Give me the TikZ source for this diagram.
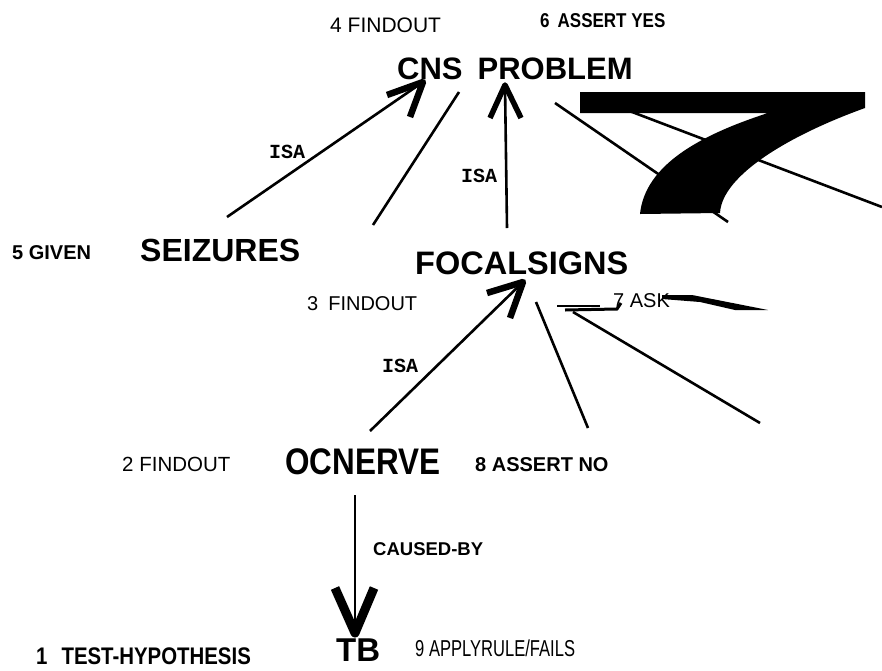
\documentclass[tikz,border=0pt]{standalone}
\usepackage{fontspec}
\setmainfont{Liberation Sans}
\newfontfamily\narrowsans[FakeStretch=0.85]{Liberation Sans}
\newfontfamily\condsans[FakeStretch=0.72]{Liberation Sans}
\newfontfamily\isafont{Liberation Mono}
\usepackage{tikz}
\newcommand{\fsz}[1]{\fontsize{#1}{#1}\selectfont}

\begin{document}
\begin{tikzpicture}[
    x=1pt, y=-1pt,
    concept/.style={inner sep=0pt, anchor=base west, font=\bfseries\fsz{31}},
    act/.style={inner sep=0pt, anchor=base west, font=\fsz{21}},
    actb/.style={act, font=\bfseries\fsz{20}},
    rel/.style={inner sep=0pt, anchor=base west, font=\isafont\bfseries\fsz{20}},
    link/.style={line width=2.6pt},
    barb/.style={line width=6.5pt, line cap=butt, line join=round},
    bigbarb/.style={barb, line width=9pt}
]
\useasboundingbox (0,0) rectangle (882,670);

% concepts
\node[concept] (cns) at (397,79) {CNS\hspace{15pt}PROBLEM};
\node[concept, font=\bfseries\fsz{32}] (seiz) at (140,261) {SEIZURES};
\node[concept, font=\bfseries\fsz{32.5}] (focal) at (415,274) {FOCALSIGNS};
\node[concept, font=\narrowsans\bfseries\fsz{37}] (ocn) at (285,474) {OCNERVE};
\node[concept, font=\bfseries\fsz{33}] (tb) at (336,661) {TB};

% steps
\node[act] (find4) at (330,32) {4 FINDOUT};
\node[actb, font=\narrowsans\bfseries\fsz{20}] (yes6) at (540,27) {6\hspace{8pt}ASSERT YES};
\node[actb] (given5) at (12,259) {5 GIVEN};
\node[act, font=\fsz{20}] (find3) at (307,310) {3\hspace{10pt}FINDOUT};
\node[act, font=\fsz{20}] (ask7) at (613,307) {7 ASK};
\node[act, font=\fsz{20.5}] (find2) at (122,471) {2 FINDOUT};
\node[actb] (no8) at (475,471) {8 ASSERT NO};
\node[actb, font=\narrowsans\bfseries\fsz{24}] (test1) at (36,664) {1\hspace{14pt}TEST-HYPOTHESIS};
\node[act, font=\condsans\fsz{23}] (rule9) at (415,656) {9 APPLYRULE/FAILS};

% relations
\node[rel] (isa1) at (269,158) {ISA};
\node[rel] (isa2) at (461,182) {ISA};
\node[rel] (isa3) at (382,372) {ISA};
\node[actb, font=\bfseries\fsz{18.5}] (causedby) at (373,555) {CAUSED-BY};

% loose ends
\coordinate (end1) at (728,222);
\coordinate (end2) at (882,207);
\coordinate (end3) at (588,428);
\coordinate (end4) at (760,423);

% links
\draw[link] ([xshift=87pt, yshift=44pt]seiz.base west) -- ([xshift=26pt, yshift=-3pt]cns.base west);
\draw[barb] ([xshift=-10pt, yshift=-16pt]cns.base west) -- ([xshift=26pt, yshift=-3pt]cns.base west)
  -- ([xshift=13pt, yshift=-38pt]cns.base west);
\draw[link] ([xshift=-42pt, yshift=49pt]focal.base west) -- ([xshift=62pt, yshift=-13pt]cns.base west);
\draw[link] ([xshift=92pt, yshift=46pt]focal.base west) -- ([xshift=108pt, yshift=-6pt]cns.base west);
\draw[barb, line width=5.5pt] ([xshift=93pt, yshift=-39pt]cns.base west) -- ([xshift=108pt, yshift=-6pt]cns.base west)
  -- ([xshift=124pt, yshift=-39pt]cns.base west);
\draw[link] ([xshift=158pt, yshift=-24pt]cns.base west) -- (end1);
\draw[link] ([xshift=193pt, yshift=-17pt]cns.base west) -- (end2);

\draw[link] ([xshift=85pt, yshift=43pt]ocn.base west) -- ([xshift=108pt, yshift=-8pt]focal.base west);
\draw[barb] ([xshift=72pt, yshift=-19pt]focal.base west) -- ([xshift=108pt, yshift=-8pt]focal.base west)
  -- ([xshift=95pt, yshift=-44pt]focal.base west);
\draw[link] ([xshift=121pt, yshift=-28pt]focal.base west) -- (end3);
\draw[link] ([xshift=158pt, yshift=-38pt]focal.base west) -- (end4);

\draw[link] ([xshift=70pt, yshift=-21pt]ocn.base west) -- ([xshift=19pt, yshift=28pt]tb.base west);
\draw[bigbarb] ([xshift=-1pt, yshift=73pt]tb.base west) -- ([xshift=19pt, yshift=28pt]tb.base west)
  -- ([xshift=38pt, yshift=73pt]tb.base west);

% blots
\fill (580,92) -- (865,92) -- (865,108) .. controls (790,135) and (722,175) .. (720,213)
  -- (640,214) .. controls (645,165) and (700,135) .. (768,113) -- (580,113) -- cycle;
\fill (662,295) -- (692,295) -- (768,310) -- (735,310) -- (700,302) -- (662,299) -- cycle;
\draw[line width=3pt] (565,310) -- (617,309) -- (621,303);
\draw[line width=1.2pt] (557,306) -- (600,306);

\end{tikzpicture}
\end{document}
